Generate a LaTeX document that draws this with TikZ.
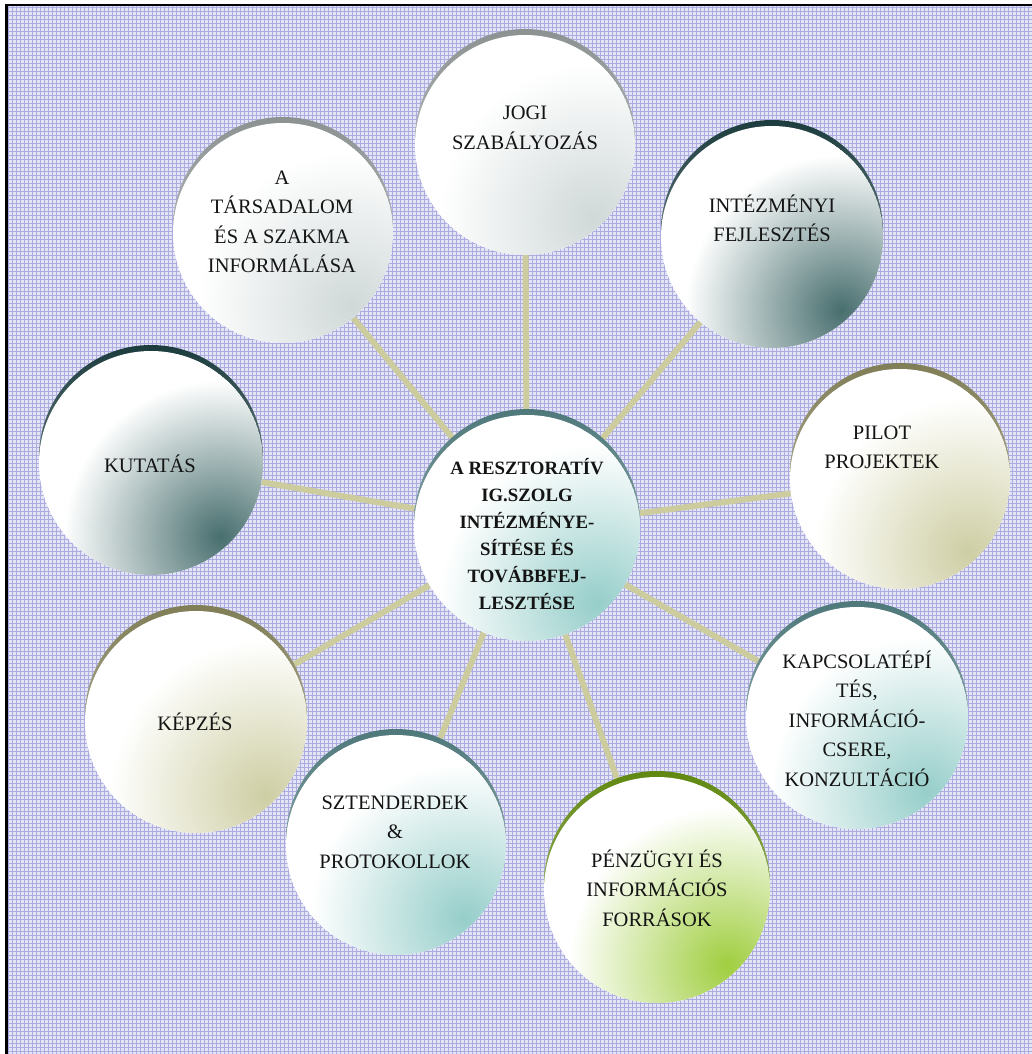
\documentclass[tikz,border=0pt]{standalone}
\usepackage{fontspec}
\setmainfont{Liberation Serif}
\definecolor{bgbase}{RGB}{228,228,247}
\definecolor{bgline}{RGB}{172,172,224}
\definecolor{spoke}{RGB}{204,204,158}
\definecolor{tealrim}{RGB}{78,120,122}
\definecolor{tealhot}{RGB}{150,206,202}
\definecolor{dtealrim}{RGB}{28,60,62}
\definecolor{dtealhot}{RGB}{72,110,110}
\definecolor{grayrim}{RGB}{140,146,146}
\definecolor{grayhot}{RGB}{208,216,216}
\definecolor{olivrim}{RGB}{128,126,86}
\definecolor{olivhot}{RGB}{206,206,164}
\definecolor{greenrim}{RGB}{96,136,16}
\definecolor{greenhot}{RGB}{160,206,64}
\definecolor{txt}{RGB}{20,20,20}
\tikzset{
  spokeline/.style={draw=spoke, line width=6pt},
  hubshape/.style={circle, inner sep=0pt, minimum size=#1},
  lbl/.style={font=\fontsize{20.5}{29.5}\selectfont, align=center, inner sep=0pt, text=txt, anchor=base},
  clbl/.style={font=\fontsize{18.8}{27}\selectfont\bfseries, align=center, inner sep=0pt, text=txt, anchor=base},
}
% #1 name, #2 radius, #3 rim colour, #4 hot colour
\newcommand\paintbubble[4]{%
  \shade[top color=#3, bottom color=#3!45!white] ([yshift=6pt]#1.center) circle (#2);
  \begin{scope}
    \clip (#1.center) circle (#2);
    \fill[white] (#1.center) circle (#2);
    \shade[inner color=#4, outer color=white] ([xshift={0.62*#2*1pt}, yshift={-0.66*#2*1pt}]#1.center) circle ({1.4*#2});
  \end{scope}
}
\begin{document}
\begin{tikzpicture}[x=1pt, y=-1pt]
\useasboundingbox (0,0) rectangle (1032,1054);
% background
\fill[white] (0,0) rectangle (1032,1054);
\fill[bgbase] (6,5) rectangle (1032,1054);
\foreach \x in {8.5,12.5,...,1032} \draw[bgline, line width=1pt] (\x,5) -- (\x,1054);
\foreach \y in {7.5,11.5,...,1054} \draw[bgline, line width=1pt] (6,\y) -- (1032,\y);
\draw[line width=2.5pt] (6.5,1054) -- (6.5,5) -- (1032,5);
% node placement
\node[hubshape=226pt] (hub) at (527,528) {};
\node[hubshape=220pt] (jogi) at (525,145) {};
\node[hubshape=220pt] (tars) at (283,233) {};
\node[hubshape=222pt] (intez) at (772,237) {};
\node[hubshape=220pt] (pilot) at (900,479) {};
\node[hubshape=222pt] (kapcs) at (857,718) {};
\node[hubshape=226pt] (penz) at (657,890) {};
\node[hubshape=220pt] (szt) at (396,845) {};
\node[hubshape=222pt] (kepz) at (196,722) {};
\node[hubshape=224pt] (kut) at (151,463) {};
% connectors
\foreach \n in {jogi,tars,intez,pilot,kapcs,penz,szt,kepz,kut}
  \draw[spokeline] (hub) -- (\n);
% bubbles
\paintbubble{jogi}{110}{grayrim}{grayhot}
\paintbubble{tars}{110}{grayrim}{grayhot}
\paintbubble{intez}{111}{dtealrim}{dtealhot}
\paintbubble{pilot}{110}{olivrim}{olivhot}
\paintbubble{kapcs}{111}{tealrim}{tealhot}
\paintbubble{penz}{113}{greenrim}{greenhot}
\paintbubble{szt}{110}{tealrim}{tealhot}
\paintbubble{kepz}{111}{olivrim}{olivhot}
\paintbubble{kut}{112}{dtealrim}{dtealhot}
\paintbubble{hub}{113}{tealrim}{tealhot}
% labels (base anchor = baseline of the last line)
\node[lbl] (tjogi) at (525,149.5) {JOGI\\SZABÁLYOZÁS};
\node[lbl] (ttars) at (282,272.5) {A\\TÁRSADALOM\\ÉS A SZAKMA\\INFORMÁLÁSA};
\node[lbl] (tintez) at (772,241.5) {INTÉZMÉNYI\\FEJLESZTÉS};
\node[lbl] (tpilot) at (882,468.5) {PILOT\\PROJEKTEK};
\node[lbl] (tkapcs) at (857,786) {KAPCSOLATÉPÍ\\TÉS,\\INFORMÁCIÓ-\\CSERE,\\KONZULTÁCIÓ};
\node[lbl] (tpenz) at (657,926) {PÉNZÜGYI ÉS\\INFORMÁCIÓS\\FORRÁSOK};
\node[lbl] (tszt) at (395,868) {SZTENDERDEK\\\&\\PROTOKOLLOK};
\node[lbl] (tkepz) at (195,730) {KÉPZÉS};
\node[lbl] (tkut) at (150,472) {KUTATÁS};
\node[clbl] (thub) at (527,609) {A RESZTORATÍV\\IG.SZOLG\\INTÉZMÉNYE-\\SÍTÉSE ÉS\\TOVÁBBFEJ-\\LESZTÉSE};
\end{tikzpicture}
\end{document}
